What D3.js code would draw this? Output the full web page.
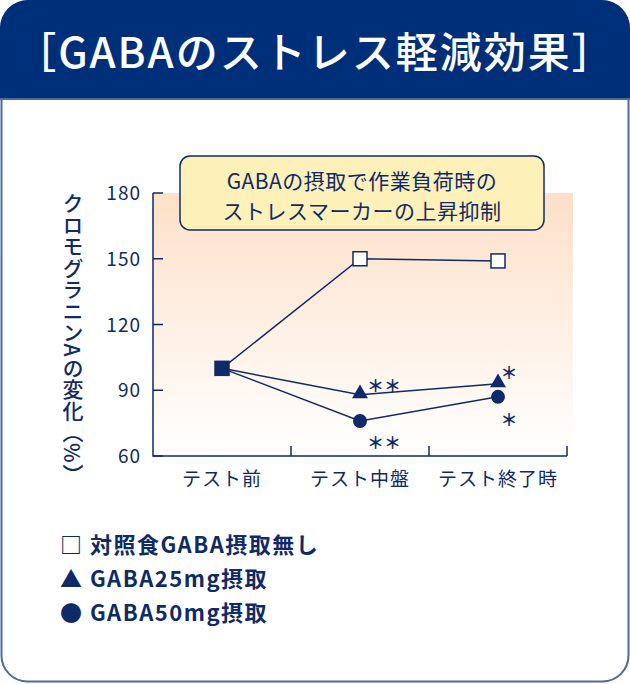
<!DOCTYPE html>
<html><head><meta charset="utf-8">
<script src="https://cdn.jsdelivr.net/npm/d3@7"></script>
<style>body{margin:0;background:#fff}svg{display:block;font-family:"Noto Sans CJK JP","Noto Sans",sans-serif}</style>
</head><body><svg id="c" width="630" height="684"></svg>
<script>
const categories=["テスト前","テスト中盤","テスト終了時"];
const controlVals=[100,150,149];
const gaba25Vals=[100,88,93];
const gaba50Vals=[100,76,87];
const yTicks=[60,90,120,150,180];
const navy="#0f2a68", head="#002f7a";
const svg=d3.select("#c");
const defs=svg.append("defs");
const g=defs.append("linearGradient").attr("id","bg").attr("x1",0).attr("y1",0).attr("x2",0).attr("y2",1);
g.append("stop").attr("offset",0).attr("stop-color","#fde0c8");
g.append("stop").attr("offset",1).attr("stop-color","#ffffff");
svg.append("rect").attr("x",1.5).attr("y",1.5).attr("width",627).attr("height",680).attr("rx",26).attr("fill","#fff").attr("stroke","#4a6aa6").attr("stroke-width",2);
svg.append("path").attr("d","M0,98 L0,28 A28,28 0 0 1 28,0 L602,0 A28,28 0 0 1 630,28 L630,98 Z").attr("fill",head);
svg.append("line").attr("x1",0).attr("x2",630).attr("y1",99).attr("y2",99).attr("stroke","#4a6aa6").attr("stroke-width",2);
svg.append("text").attr("x",315).attr("y",68).attr("text-anchor","middle").attr("fill","#fff").attr("font-size",42).attr("letter-spacing",2).attr("font-weight",500).text("［GABAのストレス軽減効果］");
const L=153,R=567,T=193,B=456;
const x=d3.scaleBand().domain(categories).range([L,R]);
const y=d3.scaleLinear().domain([60,180]).range([B,T]);
svg.append("rect").attr("x",L).attr("y",T).attr("width",R-L+6).attr("height",B-T).attr("fill","url(#bg)");
const ax=svg.append("g").attr("stroke",navy).attr("stroke-width",1.5).attr("fill","none");
ax.append("path").attr("d",`M${L},${T}V${B}H${R}`);
yTicks.forEach(t=>ax.append("line").attr("x1",L).attr("x2",L+10).attr("y1",y(t)).attr("y2",y(t)));
categories.forEach(c=>ax.append("line").attr("x1",x(c)+x.bandwidth()).attr("x2",x(c)+x.bandwidth()).attr("y1",B).attr("y2",B-10));
yTicks.forEach(t=>svg.append("text").attr("x",L-12).attr("y",y(t)+7).attr("text-anchor","end").attr("fill",navy).attr("font-size",19).attr("letter-spacing",1).text(t));
categories.forEach(c=>svg.append("text").attr("x",x(c)+x.bandwidth()/2).attr("y",486).attr("text-anchor","middle").attr("fill",navy).attr("font-size",19).attr("letter-spacing",1).text(c));
svg.append("text").attr("transform","translate(73,193)").attr("writing-mode","tb").attr("fill",navy).attr("font-size",21).attr("font-weight",500).attr("letter-spacing",0.5).text("クロモグラニンAの変化（%）");
const cx=c=>x(c)+x.bandwidth()/2;
const line=d3.line().x((d,i)=>cx(categories[i])).y(d=>y(d));
[controlVals,gaba25Vals,gaba50Vals].forEach(v=>svg.append("path").attr("d",line(v)).attr("fill","none").attr("stroke",navy).attr("stroke-width",1.5));
controlVals.forEach((v,i)=>svg.append("rect").attr("x",cx(categories[i])-7).attr("y",y(v)-7).attr("width",14).attr("height",14).attr("fill",i?"#fff":navy).attr("stroke",navy).attr("stroke-width",1.5));
gaba25Vals.forEach((v,i)=>{if(i)svg.append("path").attr("d",d3.symbol(d3.symbolTriangle,110)()).attr("transform",`translate(${cx(categories[i])},${y(v)-1})`).attr("fill",navy);});
gaba50Vals.forEach((v,i)=>{if(i)svg.append("circle").attr("cx",cx(categories[i])).attr("cy",y(v)).attr("r",7).attr("fill",navy);});
const stars=[[384,392,"＊＊"],[384,449,"＊＊"],[509,379,"＊"],[509,426,"＊"]];
stars.forEach(s=>svg.append("text").attr("x",s[0]).attr("y",s[1]).attr("text-anchor","middle").attr("fill",navy).attr("font-size",17).attr("font-weight",700).text(s[2]));
svg.append("rect").attr("x",180).attr("y",156).attr("width",364).attr("height",74).attr("rx",10).attr("fill","#fdf0b8").attr("stroke",navy).attr("stroke-width",1.5);
svg.append("text").attr("x",362).attr("y",189).attr("text-anchor","middle").attr("fill",navy).attr("font-size",21).attr("letter-spacing",0.5).text("GABAの摂取で作業負荷時の");
svg.append("text").attr("x",362).attr("y",219).attr("text-anchor","middle").attr("fill",navy).attr("font-size",21).attr("letter-spacing",0.5).text("ストレスマーカーの上昇抑制");
const legend=["□ 対照食GABA摂取無し","▲ GABA25mg摂取","● GABA50mg摂取"];
legend.forEach((t,i)=>svg.append("text").attr("x",60).attr("y",553+i*34).attr("fill",navy).attr("font-size",22).attr("font-weight",700).attr("letter-spacing",1.5).text(t));
</script></body></html>
